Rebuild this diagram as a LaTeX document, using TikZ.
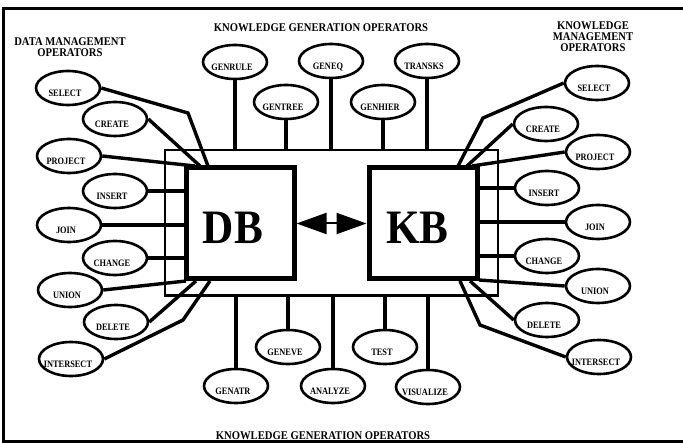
\documentclass[tikz,border=0pt]{standalone}
\usepackage{fontspec}
\setmainfont{Liberation Serif}
\newfontfamily\narrowserif[FakeStretch=0.9]{Liberation Serif}
\newfontfamily\labelserif[FakeStretch=0.85]{Liberation Serif}
\usetikzlibrary{shapes.geometric,arrows.meta,calc}
% operator label, kept from widening its ellipse
\newcommand\optext[1]{\makebox[0pt]{#1\kern6pt}}

\begin{document}
\begin{tikzpicture}[x=1pt,y=-1pt,
  op/.style={ellipse, draw, line width=2.6pt, minimum width=64pt, minimum height=34pt,
    inner sep=0pt, text height=17pt, text depth=0pt,
    font=\labelserif\bfseries\fontsize{9.8}{9.8}\selectfont},
  conn/.style={line width=3.4pt},
  basebox/.style={draw, line width=5pt, minimum width=108pt, minimum height=111pt, inner sep=0pt},
  framebox/.style={draw, line width=2.5pt, minimum width=333pt, minimum height=145.5pt, inner sep=0pt},
  bigtext/.style={inner sep=0pt, font=\narrowserif\bfseries\fontsize{48}{48}\selectfont},
  title/.style={inner sep=0pt, align=center, font=\narrowserif\bfseries\fontsize{11.8}{11}\selectfont},
  border/.style={line width=3pt},
  dblarrow/.style={line width=2pt, {Triangle[length=30pt,width=21pt]}-{Triangle[length=30pt,width=21pt]}}
]
\useasboundingbox (0,0) rectangle (683,443);

% central frame and the two bases
\node[framebox] (frame) at (331.5,222.75) {};
\node[basebox] (db) at (240,223.5) {};
\node[basebox] (kb) at (423,223.5) {};
\node[bigtext] (dbtext) at (233,228) {DB};
\node[bigtext] (kbtext) at (417.5,228) {KB};
\draw[dblarrow] (db.east) -- (kb.west);

% titles
\node[title] (toptitle) at (321,28) {KNOWLEDGE GENERATION OPERATORS};
\node[title] (dmtitle) at (70,47) {DATA MANAGEMENT\\OPERATORS};
\node[title] (kmtitle) at (593,37) {KNOWLEDGE\\MANAGEMENT\\OPERATORS};
\node[title, anchor=base] (bottitle) at (323,439.5) {KNOWLEDGE GENERATION OPERATORS};

% data management operators
\node[op] (lselect) at (68,88) {\optext{SELECT}};
\node[op] (lcreate) at (115,119) {\optext{CREATE}};
\node[op] (lproject) at (69,156) {\optext{PROJECT}};
\node[op] (linsert) at (115,191) {\optext{INSERT}};
\node[op] (ljoin) at (69,225) {\optext{JOIN}};
\node[op] (lchange) at (115,258) {\optext{CHANGE}};
\node[op] (lunion) at (70,290) {\optext{UNION}};
\node[op] (ldelete) at (116,322) {\optext{DELETE}};
\node[op] (lintersect) at (71,359) {\optext{INTERSECT}};

% knowledge management operators
\node[op] (rselect) at (597,83) {\optext{SELECT}};
\node[op] (rcreate) at (546,124) {\optext{CREATE}};
\node[op] (rproject) at (598,152) {\optext{PROJECT}};
\node[op] (rinsert) at (547,188) {\optext{INSERT}};
\node[op] (rjoin) at (598,222) {\optext{JOIN}};
\node[op] (rchange) at (547,256) {\optext{CHANGE}};
\node[op] (runion) at (598,286) {\optext{UNION}};
\node[op] (rdelete) at (547,320) {\optext{DELETE}};
\node[op] (rintersect) at (599,357) {\optext{INTERSECT}};

% knowledge generation operators
\node[op] (genrule) at (235,62) {\optext{GENRULE}};
\node[op] (gentree) at (286,102) {\optext{GENTREE}};
\node[op] (geneq) at (331,61) {\optext{GENEQ}};
\node[op] (genhier) at (383,102) {\optext{GENHIER}};
\node[op] (transks) at (427,61) {\optext{TRANSKS}};
\node[op] (geneve) at (288,347) {\optext{GENEVE}};
\node[op] (test) at (385,347) {\optext{TEST}};
\node[op] (genatr) at (236,386) {\optext{GENATR}};
\node[op] (analyze) at (333,386) {\optext{ANALYZE}};
\node[op] (visualize) at (428,387) {\optext{VISUALIZE}};

% junction points on the base outlines
\coordinate (lselbend) at (188,113);
\coordinate (ltopa) at (208,166);
\coordinate (ltopb) at (200,166);
\coordinate (ltopc) at (195,166);
\coordinate (lbota) at (186,281);
\coordinate (lbotb) at (196,281);
\coordinate (lintbend) at (183,320);
\coordinate (lbotc) at (210,281);
\coordinate (rselbend) at (483,118);
\coordinate (rtopa) at (458,166);
\coordinate (rtopb) at (467,166);
\coordinate (rtopc) at (472,166);
\coordinate (rbota) at (479,280);
\coordinate (rbotb) at (470,281);
\coordinate (rintbend) at (480,325);
\coordinate (rbotc) at (460,281);

% data management links
\draw[conn] (lselect.east) -- (lselbend) -- (ltopa);
\draw[conn] (lcreate.east) -- (ltopb);
\draw[conn] (lproject.east) -- (ltopc);
\draw[conn] (linsert.east) -- (linsert.east -| db.west);
\draw[conn] (ljoin.east) -- (ljoin.east -| db.west);
\draw[conn] (lchange.east) -- (lchange.east -| db.west);
\draw[conn] (lunion.east) -- (lbota);
\draw[conn] (ldelete.east) -- (lbotb);
\draw[conn] (lintersect.east) -- (lintbend) -- (lbotc);

% knowledge management links
\draw[conn] (rselect.west) -- (rselbend) -- (rtopa);
\draw[conn] (rcreate.west) -- (rtopb);
\draw[conn] (rproject.west) -- (rtopc);
\draw[conn] (rinsert.west) -- (rinsert.west -| kb.east);
\draw[conn] (rjoin.west) -- (rjoin.west -| kb.east);
\draw[conn] (rchange.west) -- (rchange.west -| kb.east);
\draw[conn] (runion.west) -- (rbota);
\draw[conn] (rdelete.west) -- (rbotb);
\draw[conn] (rintersect.west) -- (rintbend) -- (rbotc);

% knowledge generation links
\foreach \g in {genrule,gentree,geneq,genhier,transks}
  \draw[conn] (\g.south) -- (\g.south |- frame.north);
\foreach \g in {geneve,test,genatr,analyze,visualize}
  \draw[conn] (\g.north) -- (\g.north |- frame.south);

% outer border, open on the right
\draw[border] (683,8.5) -- (3.5,8.5) -- (3.5,441.5) -- (683,441.5);
\end{tikzpicture}
\end{document}
